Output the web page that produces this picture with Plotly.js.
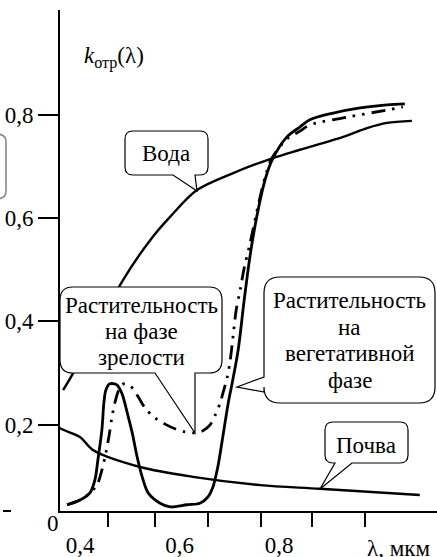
<!DOCTYPE html>
<html><head><meta charset="utf-8">
<script src="https://cdn.plot.ly/plotly-3.0.1.min.js"></script>
<style>
html,body{margin:0;padding:0;background:#fff}
#chart{width:437px;height:557px}
svg text{font-family:"Liberation Serif","Times New Roman",serif !important;}
</style>
</head><body><div id="chart"></div>
<script>
// ---- data (wavelength in µm, reflectance k) ----
const waterX = [0.366, 0.384, 0.434, 0.484, 0.541, 0.581, 0.635, 0.708, 0.788, 0.842, 0.929, 0.977, 1.017, 1.067];
const waterY = [0.267, 0.296, 0.385, 0.476, 0.557, 0.602, 0.654, 0.687, 0.716, 0.732, 0.757, 0.774, 0.784, 0.788];

const soilX = [0.346, 0.360, 0.400, 0.426, 0.521, 0.627, 0.762, 0.882, 1.083];
const soilY = [0.205, 0.193, 0.176, 0.151, 0.118, 0.099, 0.083, 0.076, 0.064];

const vegX = [0.374,0.400,0.420,0.430,0.436,0.444,0.448,0.452,0.460,0.474,0.484,0.495,0.505,0.515,0.525,0.537,0.561,0.581,0.615,0.641,0.657,0.667,0.677,0.687,0.698,0.706,0.718,0.730,0.742,0.756,0.772,0.786,0.816,0.842,0.862,0.909,0.963,1.017,1.053];
const vegY = [0.045,0.054,0.068,0.093,0.132,0.190,0.242,0.267,0.279,0.277,0.261,0.223,0.184,0.137,0.099,0.068,0.048,0.041,0.045,0.048,0.060,0.079,0.118,0.176,0.242,0.281,0.345,0.441,0.528,0.606,0.674,0.712,0.757,0.776,0.790,0.803,0.813,0.819,0.821];

const matX = [0.374,0.400,0.420,0.434,0.444,0.452,0.458,0.464,0.470,0.478,0.488,0.501,0.515,0.531,0.551,0.571,0.591,0.611,0.631,0.647,0.661,0.671,0.681,0.689,0.696,0.702,0.708,0.714,0.722,0.730,0.742,0.756,0.772,0.786,0.816,0.842,0.862,0.937,1.017,1.049];
const matY = [0.045,0.054,0.068,0.083,0.112,0.145,0.176,0.213,0.242,0.267,0.279,0.275,0.257,0.232,0.213,0.201,0.192,0.186,0.184,0.188,0.199,0.217,0.240,0.267,0.292,0.325,0.374,0.422,0.461,0.503,0.552,0.615,0.679,0.716,0.753,0.768,0.780,0.795,0.809,0.815];

const yTickVals = [0.2, 0.4, 0.6, 0.8];
const yTickText = ['0,2', '0,4', '0,6', '0,8'];
const xLabelVals = [0.4, 0.6, 0.8];
const xLabelText = ['0,4', '0,6', '0,8'];
const xTickVals = [0.456, 0.551, 0.657, 0.764, 0.866, 0.973];

// ---- layout helpers (pixel -> paper) ----
const W = 437, H = 557, ML = 60, MR = 0, MT = 10, MB = 46;
const PW = W - ML - MR, PH = H - MT - MB;
const px = v => (v - ML) / PW;
const py = v => (H - MB - v) / PH;
const P = (x, y) => px(x).toFixed(5) + ',' + py(y).toFixed(5);

function bubble(x0, y0, x1, y1, r, ptr) {
  let d = 'M' + P(x0 + r, y0) + ' L' + P(x1 - r, y0) + ' Q' + P(x1, y0) + ' ' + P(x1, y0 + r) +
          ' L' + P(x1, y1 - r) + ' Q' + P(x1, y1) + ' ' + P(x1 - r, y1);
  if (ptr.side === 'bottom') {
    d += ' L' + P(ptr.b2, y1) + ' L' + P(ptr.tx, ptr.ty) + ' L' + P(ptr.b1, y1);
  }
  d += ' L' + P(x0 + r, y1) + ' Q' + P(x0, y1) + ' ' + P(x0, y1 - r);
  if (ptr.side === 'left') {
    d += ' L' + P(x0, ptr.b2) + ' L' + P(ptr.tx, ptr.ty) + ' L' + P(x0, ptr.b1);
  }
  d += ' L' + P(x0, y0 + r) + ' Q' + P(x0, y0) + ' ' + P(x0 + r, y0) + ' Z';
  return {type: 'path', xref: 'paper', yref: 'paper', path: d, layer: 'above',
          fillcolor: '#ffffff', line: {color: '#000', width: 1.2}};
}

const FONT = 'Liberation Serif, serif';
function txt(text, x, y, size, anchor) {
  return {text: text, xref: 'paper', yref: 'paper', x: px(x), y: py(y), showarrow: false,
          xanchor: anchor || 'center', yanchor: 'middle',
          font: {family: FONT, size: size || 23, color: '#000'}};
}

const lineStyle = (dash, w) => ({color: '#000', width: w, shape: 'spline', smoothing: 0.9, dash: dash});

const traces = [
  {x: waterX, y: waterY, mode: 'lines', line: lineStyle('solid', 2.4), name: 'Вода'},
  {x: soilX, y: soilY, mode: 'lines', line: lineStyle('solid', 2.4), name: 'Почва'},
  {x: matX, y: matY, mode: 'lines', line: lineStyle('14px,7px,2.5px,7px,2.5px,7px', 2.8), name: 'Растительность на фазе зрелости'},
  {x: vegX, y: vegY, mode: 'lines', line: lineStyle('solid', 2.8), name: 'Растительность на вегетативной фазе'}
];

const layout = {
  width: W, height: H,
  margin: {l: ML, r: MR, t: MT, b: MB, pad: 0},
  paper_bgcolor: '#fff', plot_bgcolor: '#fff',
  showlegend: false,
  font: {family: FONT, color: '#000'},
  xaxis: {
    range: [0.3598, 1.1176], showgrid: false, zeroline: false,
    showline: true, linecolor: '#000', linewidth: 2,
    tickmode: 'array', tickvals: xLabelVals, ticktext: xLabelText,
    ticks: 'outside', ticklen: 12, tickcolor: 'rgba(0,0,0,0)',
    tickfont: {family: FONT, size: 23, color: '#000'},
    minor: {tickmode: 'array', tickvals: xTickVals, ticks: 'outside', ticklen: 14, tickwidth: 2, tickcolor: '#000', showgrid: false}
  },
  yaxis: {
    range: [0.0329, 1.0025], showgrid: false, zeroline: false,
    showline: true, linecolor: '#000', linewidth: 2,
    tickmode: 'array', tickvals: yTickVals, ticktext: yTickText,
    ticks: 'outside', ticklen: 20, tickwidth: 2, tickcolor: '#000',
    tickfont: {family: FONT, size: 23, color: '#000'}
  },
  shapes: [
    bubble(125, 131, 208, 175, 8, {side: 'bottom', b1: 173, b2: 195, tx: 197, ty: 191}),
    bubble(60, 287, 222, 373, 13, {side: 'bottom', b1: 155, b2: 195, tx: 195, ty: 433}),
    bubble(264, 277, 435, 403, 16, {side: 'left', b1: 377, b2: 392, tx: 237, ty: 387}),
    bubble(325, 422, 408, 463, 8, {side: 'bottom', b1: 335, b2: 352, tx: 320, ty: 489}),
    {type: 'path', xref: 'paper', yref: 'paper', layer: 'above',
     path: 'M' + P(-4, 134) + ' Q' + P(6, 134) + ' ' + P(6, 142) + ' L' + P(6, 191) + ' Q' + P(6, 199) + ' ' + P(-4, 199),
     line: {color: '#888', width: 1.6}},
    {type: 'line', xref: 'paper', yref: 'paper', x0: px(3), x1: px(11), y0: py(511), y1: py(511), line: {color: '#000', width: 2}}
  ],
  annotations: [
    txt('<i>k</i><sub>отр</sub>(λ)', 82, 57, 23, 'left'),
    txt('Вода', 166, 153),
    txt('Растительность', 141.5, 305),
    txt('на фазе', 141.5, 331),
    txt('зрелости', 141.5, 357),
    txt('Растительность', 349.5, 300),
    txt('на', 349.5, 327),
    txt('вегетативной', 349.5, 353),
    txt('фазе', 349.5, 380),
    txt('Почва', 366, 445),
    txt('0', 53, 523),
    txt('λ, мкм', 365, 548, 23, 'left')
  ]
};

Plotly.newPlot('chart', traces, layout, {displayModeBar: false, staticPlot: true});
</script>
</body></html>
